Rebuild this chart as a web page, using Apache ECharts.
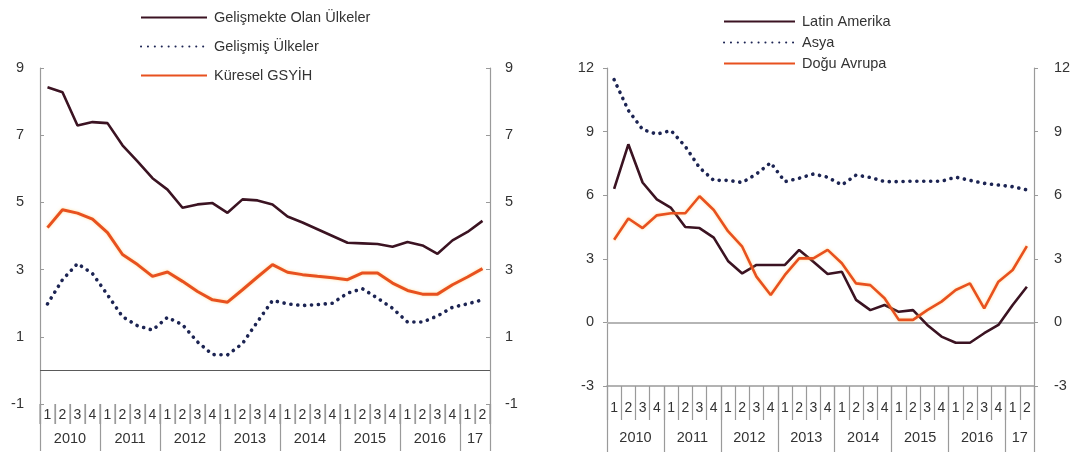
<!DOCTYPE html>
<html><head><meta charset="utf-8">
<script src="https://cdn.jsdelivr.net/npm/echarts@6/dist/echarts.min.js"></script>
<style>html,body{margin:0;padding:0;background:#fff}#c{width:1090px;height:457px}</style>
</head><body><div id="c"></div><script>
// ---- data ----
const quarterLabels = ['1','2','3','4','1','2','3','4','1','2','3','4','1','2','3','4','1','2','3','4','1','2','3','4','1','2','3','4','1','2'];
const yearLabels = ['2010','2011','2012','2013','2014','2015','2016','17'];
const yearBounds = [0,4,8,12,16,20,24,28,30];

const leftNames = ['Gelişmekte Olan Ülkeler','Gelişmiş Ülkeler','Küresel GSYİH'];
const gelismekte = [8.43,8.28,7.29,7.39,7.36,6.70,6.22,5.72,5.38,4.84,4.94,4.98,4.69,5.09,5.06,4.94,4.58,4.40,4.20,4.00,3.80,3.78,3.76,3.68,3.82,3.72,3.47,3.87,4.12,4.45];
const gelismis   = [1.98,2.70,3.18,2.88,2.25,1.60,1.33,1.20,1.58,1.36,0.85,0.47,0.46,0.80,1.45,2.08,1.98,1.93,1.96,2.00,2.30,2.43,2.15,1.85,1.44,1.44,1.62,1.88,1.98,2.10];
const kuresel    = [4.25,4.78,4.68,4.50,4.10,3.45,3.15,2.80,2.93,2.65,2.35,2.10,2.03,2.40,2.78,3.15,2.92,2.85,2.80,2.76,2.70,2.90,2.90,2.60,2.38,2.27,2.27,2.55,2.78,3.03];
const leftTicks = {min:-1, max:9, interval:2};

const rightNames = ['Latin Amerika','Asya','Doğu Avrupa'];
const latin = [6.30,8.40,6.60,5.80,5.40,4.50,4.45,4.00,2.90,2.31,2.71,2.71,2.71,3.42,2.86,2.28,2.39,1.06,0.58,0.82,0.50,0.58,-0.12,-0.67,-0.96,-0.96,-0.51,-0.12,0.82,1.68];
const asya  = [11.45,10.0,9.10,8.88,9.05,8.30,7.30,6.70,6.70,6.60,7.00,7.53,6.64,6.80,7.00,6.85,6.48,6.95,6.84,6.64,6.64,6.66,6.66,6.66,6.85,6.70,6.56,6.48,6.40,6.25];
const dogu  = [3.90,4.90,4.45,5.05,5.15,5.15,5.95,5.30,4.30,3.57,2.16,1.29,2.24,3.02,3.02,3.42,2.79,1.84,1.76,1.14,0.12,0.12,0.58,0.98,1.53,1.84,0.66,1.92,2.47,3.60];
const rightTicks = {min:-3, max:12, interval:3};

// ---- styling ----
const FONT = 'Liberation Sans, Arial, sans-serif';
const TXT = '#333';
const MAROON = '#3b1322';
const NAVY = '#1c2453';
const ORANGE = '#e8511f';
const AX = '#9a9a9a';

const nQ = quarterLabels.length;
const yearMids = yearBounds.slice(0,-1).map((b,i)=> (b + yearBounds[i+1]) / 2);
const quarterBounds = quarterLabels.map((q,i)=>i).concat([nQ]);

function yAxes(grid, t, mL, mR, tickInside) {
  const base = {
    type:'value', gridIndex:grid, min:t.min, max:t.max, interval:t.interval,
    splitLine:{show:false},
    axisLine:{show:true, onZero:false, lineStyle:{color:AX, width:1.2}},
    axisTick:{show:true, inside:tickInside, length:4, lineStyle:{color:AX}},
    axisLabel:{color:TXT, fontSize:14.5, fontFamily:FONT}
  };
  return [
    Object.assign({}, base, {position:'left', axisLabel:Object.assign({}, base.axisLabel, {margin:mL})}),
    Object.assign({}, base, {position:'right', axisLabel:Object.assign({}, base.axisLabel, {margin:mR})})
  ];
}

function xAxes(grid, showBottomLine, qMargin, qTick, yMargin, yTick) {
  return [
    { type:'category', gridIndex:grid, data:quarterLabels, position:'bottom', boundaryGap:true,
      axisLine:{show:showBottomLine, onZero:false, lineStyle:{color:AX, width:1.5}},
      axisTick:{show:false},
      axisLabel:{interval:0, margin:qMargin, color:TXT, fontSize:14, fontFamily:FONT},
      splitLine:{show:false} },
    { type:'value', gridIndex:grid, min:0, max:nQ, position:'bottom',
      axisLine:{show:false, onZero:false},
      axisTick:{show:true, customValues:yearBounds, length:yTick, lineStyle:{color:AX, width:1.2}},
      axisLabel:{customValues:yearMids, margin:yMargin, color:TXT, fontSize:14.5, fontFamily:FONT,
        formatter:(v)=>{ const i = yearMids.indexOf(v); return i >= 0 ? yearLabels[i] : ''; }},
      splitLine:{show:false} },
    { type:'value', gridIndex:grid, min:0, max:nQ, position:'bottom',
      axisLine:{show:false, onZero:false},
      axisTick:{show:true, customValues:quarterBounds, length:qTick, lineStyle:{color:AX, width:1.2}},
      axisLabel:{show:false}, splitLine:{show:false} }
  ];
}

const solid = (c, w) => ({color:c, width:w, type:'solid'});
const dotted = (c) => ({color:c, width:3.6, type:[0.1, 6.8], cap:'round'});
const glow = {shadowColor:'rgba(255,190,70,0.55)', shadowBlur:3};

function series(name, data, xi, yi, lineStyle, color, zeroLine) {
  const s = { name, type:'line', data, xAxisIndex:xi, yAxisIndex:yi, symbol:'none',
    itemStyle:{color}, lineStyle, z:3, animation:false };
  if (zeroLine) {
    s.markLine = { silent:true, symbol:'none', label:{show:false}, animation:false,
      lineStyle:Object.assign({type:'solid'}, zeroLine), data:[{yAxis:0}], z:1 };
  }
  return s;
}

const option = {
  animation:false,
  textStyle:{fontFamily:FONT},
  grid:[
    {left:40, right:600, top:68, bottom:53},
    {left:607, right:56, top:68, bottom:71}
  ],
  legend:[
    { data:leftNames, orient:'vertical', left:140, top:10, padding:0, itemWidth:66, itemHeight:14, itemGap:14,
      textStyle:{color:TXT, fontSize:14.5, fontFamily:FONT, padding:[0,0,0,2]},
      itemStyle:{opacity:0}, selectedMode:false },
    { data:rightNames, orient:'vertical', left:723, top:14, padding:0, itemWidth:71, itemHeight:14, itemGap:6,
      textStyle:{color:TXT, fontSize:14.5, fontFamily:FONT, padding:[0,0,0,2]},
      itemStyle:{opacity:0}, selectedMode:false }
  ],
  xAxis:[].concat(
    xAxes(0, false, 4, 20, 27, 47),
    xAxes(1, true, 15, 34, 44, 66)
  ),
  yAxis:[].concat(
    yAxes(0, leftTicks, 16, 15, true),
    yAxes(1, rightTicks, 13, 20, false)
  ),
  series:[
    series(leftNames[0], gelismekte, 0, 0, solid(MAROON, 2.6), MAROON, {color:'#5a5a5a', width:1}),
    series(leftNames[1], gelismis, 0, 0, dotted(NAVY), NAVY),
    series(leftNames[2], kuresel, 0, 0, Object.assign(solid(ORANGE, 3), glow), ORANGE),
    series(rightNames[0], latin, 3, 2, solid(MAROON, 2.6), MAROON, {color:'#b5b5b5', width:2}),
    series(rightNames[1], asya, 3, 2, dotted(NAVY), NAVY),
    series(rightNames[2], dogu, 3, 2, Object.assign(solid(ORANGE, 2.6), glow), ORANGE)
  ]
};

const chart = echarts.init(document.getElementById('c'), null, {renderer:'canvas'});
chart.setOption(option);

// quarter separators under the left panel, placed with the library's own scales
const yTop = chart.convertToPixel({yAxisIndex:0}, leftTicks.min);
const sepLines = quarterBounds.map(b => {
  const x = chart.convertToPixel({xAxisIndex:1}, b);
  return { type:'line', z:100, silent:true,
    shape:{x1:x, y1:yTop, x2:x, y2:yTop + 20},
    style:{stroke:AX, lineWidth:1.2} };
});
chart.setOption({graphic:sepLines});
</script></body></html>
